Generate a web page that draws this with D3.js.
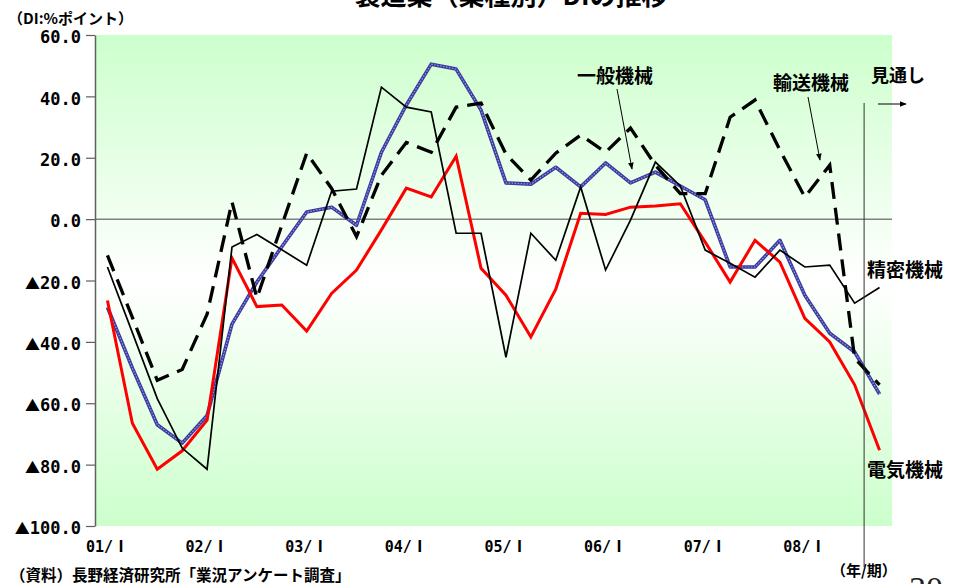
<!DOCTYPE html>
<html>
<head>
<meta charset="utf-8">
<script src="https://cdn.jsdelivr.net/npm/d3@7"></script>
<style>
  body { margin: 0; background: #fff; }
  svg { display: block; }
</style>
</head>
<body>
<svg id="chart" width="958" height="584"></svg>
<script>
// ---- data: quarterly DI (% points), 2001/I .. 2008/IV ----
const years = ["01", "02", "03", "04", "05", "06", "07", "08"];
const quarters = ["Ⅰ", "Ⅱ", "Ⅲ", "Ⅳ"];
const categories = years.flatMap(yr => quarters.map(q => yr + "/" + q));
const tickLabels = years.map(yr => yr + "/Ⅰ");
const yTicks = [60, 40, 20, 0, -20, -40, -60, -80, -100];

const ippan = [   // 一般機械
  -28.7, -48.5, -67.0, -73.0, -64.0, -34.2, -20.5, -9.0,
  2.3, 3.9, -2.0, 21.8, 37.2, 50.5, 48.9, 35.5,
  11.8, 11.4, 16.9, 10.5, 18.3, 11.8, 15.3, 10.8,
  6.3, -15.6, -15.6, -6.9, -24.8, -37.2, -43.3, -57.0
];
const denki = [   // 電気機械
  -26.5, -66.5, -81.5, -75.5, -65.5, -12.7, -28.5, -28.0,
  -36.5, -24.2, -16.6, -3.5, 10.1, 7.2, 20.5, -16.0,
  -24.8, -38.4, -22.8, 1.9, 1.5, 3.9, 4.3, 5.0,
  -7.5, -20.5, -6.9, -14.0, -32.3, -40.0, -54.0, -75.3
];
const seimitsu = [ // 精密機械
  -15.6, -37.0, -58.5, -74.6, -81.5, -9.1, -5.0, -10.0,
  -15.0, 9.1, 9.8, 43.0, 36.5, 34.9, -4.6, -4.6,
  -45.0, -4.6, -13.4, 10.5, -16.6, -0.3, 18.6, 10.8,
  -10.1, -14.4, -18.9, -10.1, -15.6, -15.0, -27.4, -22.3
];
const yuso = [    // 輸送機械
  -11.8, -32.0, -52.5, -49.0, -31.0, 5.6, -25.7, -2.0,
  21.5, 10.0, -5.7, 14.3, 25.0, 21.8, 36.5, 37.8,
  21.2, 12.7, 21.5, 27.4, 21.8, 29.7, 17.6, 8.3,
  8.3, 33.2, 38.8, 22.5, 7.2, 17.6, -45.3, -54.0
];

// ---- layout ----
const plot = { left: 95, right: 892, top: 35, bottom: 526 };
const JP = "'Noto Sans CJK JP', 'Noto Sans CJK SC', sans-serif";
const MONO = "'DejaVu Sans Mono', monospace";

const svg = d3.select("#chart");

const x = d3.scaleBand().domain(categories).range([plot.left, plot.right]).padding(0);
const px = c => x(c) + x.bandwidth() / 2;
const y = d3.scaleLinear().domain([-100, 60]).range([plot.bottom, plot.top]);

// plot background: green at the edges, white through the middle
const defs = svg.append("defs");
const grad = defs.append("linearGradient").attr("id", "bg")
  .attr("x1", 0).attr("y1", 0).attr("x2", 0).attr("y2", 1);
[["0%", "#ccffcc"], ["50%", "#ffffff"], ["100%", "#ccffcc"]].forEach(([o, c]) =>
  grad.append("stop").attr("offset", o).attr("stop-color", c));

const marker = defs.append("marker").attr("id", "arrow")
  .attr("viewBox", "0 0 10 10").attr("refX", 9).attr("refY", 5)
  .attr("markerWidth", 7).attr("markerHeight", 7).attr("orient", "auto-start-reverse")
  .attr("markerUnits", "userSpaceOnUse");
marker.append("path").attr("d", "M0,1 L10,5 L0,9 z").attr("fill", "#000");

svg.append("rect")
  .attr("x", plot.left).attr("y", plot.top)
  .attr("width", plot.right - plot.left).attr("height", plot.bottom - plot.top)
  .attr("fill", "url(#bg)");

// zero reference line
svg.append("line")
  .attr("x1", plot.left).attr("x2", plot.right)
  .attr("y1", y(0)).attr("y2", y(0))
  .attr("stroke", "#808080").attr("stroke-width", 1.5);

// ---- y axis ----
const yAxis = d3.axisLeft(y).tickValues(yTicks).tickSize(9).tickSizeOuter(0).tickPadding(5);
const ya = svg.append("g").attr("transform", `translate(${plot.left},0)`).call(yAxis);
ya.select(".domain").attr("stroke", "#606060").attr("stroke-width", 1.5);
ya.selectAll(".tick line").attr("stroke", "#606060").attr("stroke-width", 1.2);
ya.selectAll(".tick text")
  .attr("font-family", MONO).attr("font-weight", "bold").attr("font-size", 17).attr("fill", "#000")
  .attr("dy", "0.45em")
  .each(function (d) {
    const t = d3.select(this);
    t.text(null);
    if (d < 0) t.append("tspan").attr("font-family", JP).attr("font-size", 15).text("▲");
    t.append("tspan").text(Math.abs(d).toFixed(1));
  });

// ---- x axis (first quarter of each year) ----
const xAxis = d3.axisBottom(x)
  .tickValues(categories.filter((c, i) => i % 4 === 0))
  .tickSize(0).tickPadding(15)
  .tickFormat((c, i) => tickLabels[i]);
const xa = svg.append("g").attr("transform", `translate(0,${plot.bottom})`).call(xAxis);
xa.select(".domain").remove();
xa.selectAll(".tick text")
  .attr("font-family", MONO).attr("font-weight", "bold").attr("font-size", 15).attr("fill", "#000")
  .each(function (c) {
    const t = d3.select(this);
    const label = t.text();
    const cut = label.indexOf("/") + 1;
    t.text(null);
    t.append("tspan").text(label.slice(0, cut));
    t.append("tspan").attr("font-family", JP).attr("font-size", 16).text(label.slice(cut));
  });

// ---- series ----
const line = d3.line().x((d, i) => px(categories[i])).y(d => y(d));

// 一般機械: textured navy band
svg.append("path").datum(ippan).attr("d", line)
  .attr("fill", "none").attr("stroke", "#3a3aa0").attr("stroke-width", 3.6)
  .attr("stroke-linejoin", "round");
svg.append("path").datum(ippan).attr("d", line)
  .attr("fill", "none").attr("stroke", "#9a9ad8").attr("stroke-width", 1.2)
  .attr("stroke-dasharray", "1.5,1.5");

// 電気機械
svg.append("path").datum(denki).attr("d", line)
  .attr("fill", "none").attr("stroke", "#ff0000").attr("stroke-width", 3)
  .attr("stroke-linejoin", "miter");

// 精密機械
svg.append("path").datum(seimitsu).attr("d", line)
  .attr("fill", "none").attr("stroke", "#000").attr("stroke-width", 1.7);

// 輸送機械
svg.append("path").datum(yuso).attr("d", line)
  .attr("fill", "none").attr("stroke", "#000").attr("stroke-width", 3.3)
  .attr("stroke-dasharray", "17,9");

// ---- forecast divider ----
const fx = x(categories[categories.length - 1]) - 3;
svg.append("line").attr("x1", fx).attr("x2", fx).attr("y1", 103).attr("y2", 567)
  .attr("stroke", "#333").attr("stroke-width", 1);
svg.append("line").attr("x1", 878).attr("x2", 906).attr("y1", 104).attr("y2", 104)
  .attr("stroke", "#000").attr("stroke-width", 1).attr("marker-end", "url(#arrow)");

// ---- labels ----
const label = (txt, xx, yy, size, anchor = "start") =>
  svg.append("text").attr("x", xx).attr("y", yy)
    .attr("font-family", JP).attr("font-weight", "bold").attr("font-size", size)
    .attr("text-anchor", anchor).attr("fill", "#000").text(txt);

label("製造業（業種別）DIの推移", 511, 5, 26, "middle");
label("（DI:%ポイント）", 8, 24, 15);
label("一般機械", 615, 83, 19, "middle");
label("輸送機械", 811, 90, 19, "middle");
label("見通し", 871, 82, 18);
label("精密機械", 867, 277, 19);
label("電気機械", 867, 477, 19);
label("（年/期）", 831, 576, 15);
label("（資料）長野経済研究所「業況アンケート調査」", 10, 581, 15.5);

// pointer arrows
svg.append("line").attr("x1", 617).attr("y1", 89).attr("x2", 632).attr("y2", 169)
  .attr("stroke", "#000").attr("stroke-width", 1).attr("marker-end", "url(#arrow)");
svg.append("line").attr("x1", 808).attr("y1", 97).attr("x2", 820).attr("y2", 160)
  .attr("stroke", "#000").attr("stroke-width", 1).attr("marker-end", "url(#arrow)");

// page number
svg.append("text").attr("x", 909).attr("y", 600)
  .attr("font-family", "'Liberation Serif', serif").attr("font-size", 34)
  .attr("fill", "#222").text("30");
</script>
</body>
</html>
